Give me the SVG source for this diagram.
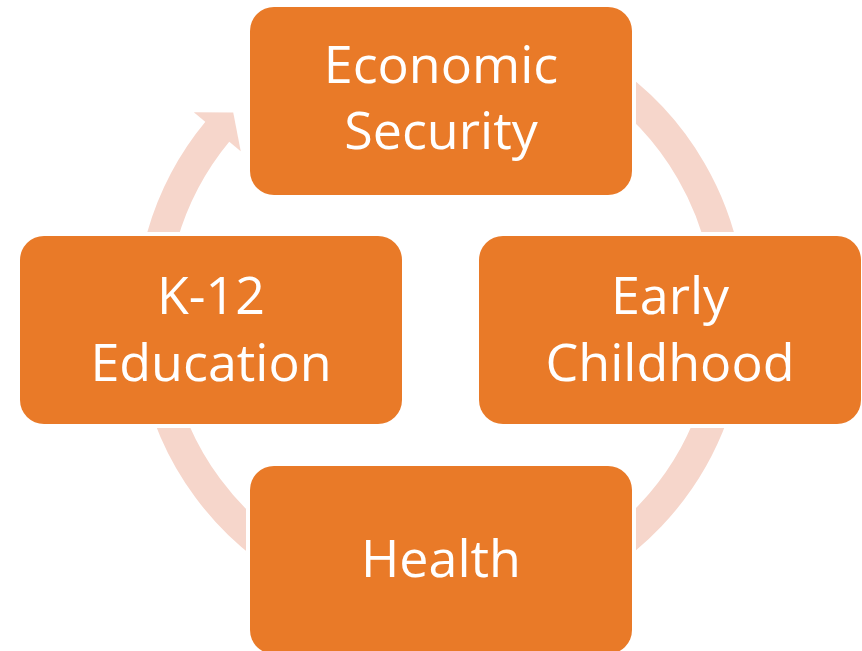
<svg xmlns="http://www.w3.org/2000/svg" width="862" height="651" viewBox="0 0 862 651">
  <style>
    .box { fill: #E97A28; stroke: #FFFFFF; stroke-width: 8; paint-order: stroke; }
    .lbl { font-family: "Open Sans", "Noto Sans", sans-serif; font-size: 52px; fill: #FFFFFF; text-anchor: middle; }
    .ring { fill: none; stroke: #F6D6CB; stroke-width: 31; }
  </style>
  <defs>
    <marker id="ah" markerUnits="userSpaceOnUse" orient="auto" markerWidth="40" markerHeight="70" viewBox="-2 -35 40 70" refX="0" refY="0" overflow="visible">
      <path d="M-1,-30.5 L24,0 L-1,30.5 Z" fill="#F6D6CB"/>
    </marker>
  </defs>
  <rect width="862" height="651" fill="#FFFFFF"/>
  <g id="connectors">
    <path class="ring" d="M490.8,30.9 A289.5,289.5 0 1 1 217.9,131.0" marker-end="url(#ah)"/>
  </g>
  <g id="node-economic-security">
    <rect class="box" x="250" y="7" width="382" height="188" rx="24"/>
    <text class="lbl" x="441" y="83">Economic</text>
    <text class="lbl" x="441" y="149">Security</text>
  </g>
  <g id="node-early-childhood">
    <rect class="box" x="479" y="236" width="382" height="188" rx="24"/>
    <text class="lbl" x="670" y="314">Early</text>
    <text class="lbl" x="670" y="381">Childhood</text>
  </g>
  <g id="node-health">
    <rect class="box" x="250" y="466" width="382" height="188" rx="24"/>
    <text class="lbl" x="441" y="577">Health</text>
  </g>
  <g id="node-k12-education">
    <rect class="box" x="20" y="236" width="382" height="188" rx="24"/>
    <text class="lbl" x="211" y="314">K-12</text>
    <text class="lbl" x="211" y="381">Education</text>
  </g>
</svg>
